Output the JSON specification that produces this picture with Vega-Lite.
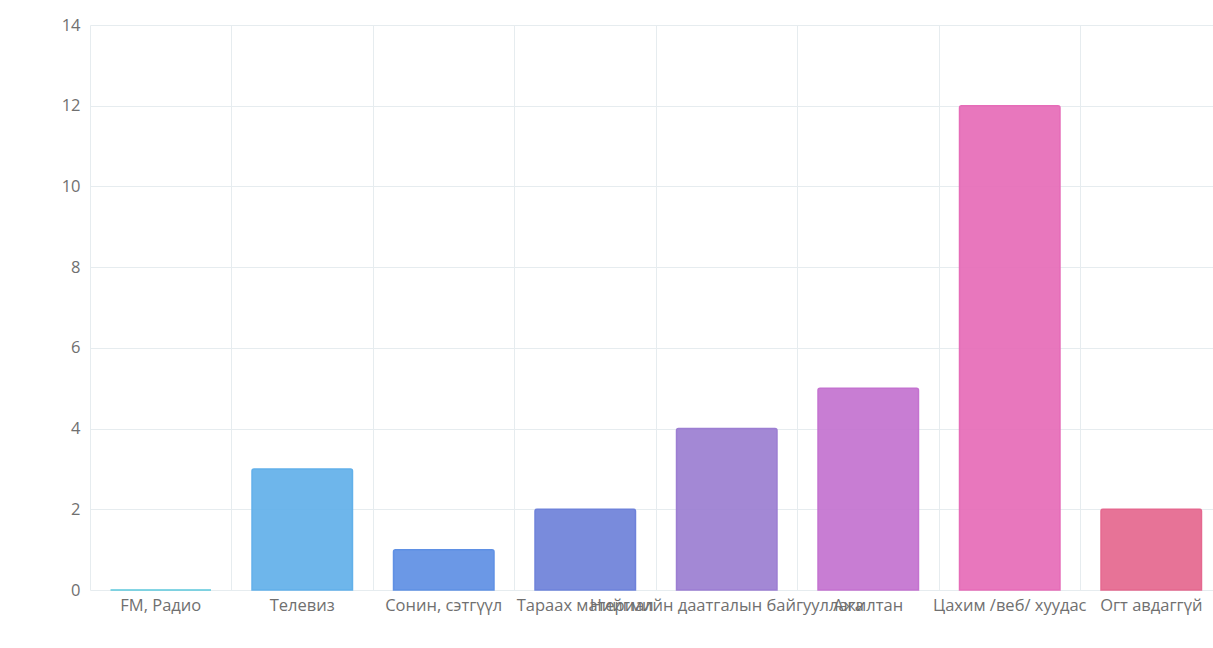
{
  "$schema": "https://vega.github.io/schema/vega-lite/v6.json",
  "autosize": "none",
  "width": 1132,
  "height": 565,
  "padding": {"left": 90, "top": 25, "right": 0, "bottom": 58},
  "background": "white",
  "config": {
    "view": {"stroke": null},
    "font": "Open Sans"
  },
  "data": {
    "values": [
      {"source": "FM, Радио", "count": 0},
      {"source": "Телевиз", "count": 3},
      {"source": "Сонин, сэтгүүл", "count": 1},
      {"source": "Тараах материал", "count": 2},
      {"source": "Нийгмийн даатгалын байгууллага", "count": 4},
      {"source": "Ажилтан", "count": 5},
      {"source": "Цахим /веб/ хуудас", "count": 12},
      {"source": "Огт авдаггүй", "count": 2}
    ]
  },
  "mark": {"type": "bar", "width": {"band": 0.71}, "opacity": 0.92, "strokeWidth": 1.5, "cornerRadiusTopLeft": 2, "cornerRadiusTopRight": 2},
  "encoding": {
    "x": {
      "field": "source",
      "type": "nominal",
      "sort": null,
      "scale": {"paddingInner": 0, "paddingOuter": 0},
      "axis": {
        "title": null,
        "labelAngle": 0,
        "labelOverlap": false,
        "labelLimit": 0,
        "labelFontSize": 16.5,
        "labelColor": "#707070",
        "labelPadding": 7,
        "ticks": false,
        "domain": false,
        "grid": true,
        "gridColor": "#e6ecef",
        "bandPosition": 0
      }
    },
    "y": {
      "field": "count",
      "type": "quantitative",
      "scale": {"domain": [0, 14], "nice": false},
      "axis": {
        "title": null,
        "values": [0, 2, 4, 6, 8, 10, 12, 14],
        "labelFontSize": 16.5,
        "labelColor": "#707070",
        "labelPadding": 10,
        "ticks": false,
        "domain": false,
        "gridColor": "#e6ecef"
      }
    },
    "color": {
      "field": "source",
      "type": "nominal",
      "sort": null,
      "legend": null,
      "scale": {
        "domain": ["FM, Радио", "Телевиз", "Сонин, сэтгүүл", "Тараах материал", "Нийгмийн даатгалын байгууллага", "Ажилтан", "Цахим /веб/ хуудас", "Огт авдаггүй"],
        "range": ["#5cc8dc", "#62b0ea", "#5f90e4", "#6e82da", "#9c7ed2", "#c472d0", "#e66cb8", "#e5688f"]
      }
    },
    "stroke": {
      "field": "source",
      "type": "nominal",
      "sort": null,
      "legend": null,
      "scale": {
        "domain": ["FM, Радио", "Телевиз", "Сонин, сэтгүүл", "Тараах материал", "Нийгмийн даатгалын байгууллага", "Ажилтан", "Цахим /веб/ хуудас", "Огт авдаггүй"],
        "range": ["#5cc8dc", "#62b0ea", "#5f90e4", "#6e82da", "#9c7ed2", "#c472d0", "#e66cb8", "#e5688f"]
      }
    }
  }
}
